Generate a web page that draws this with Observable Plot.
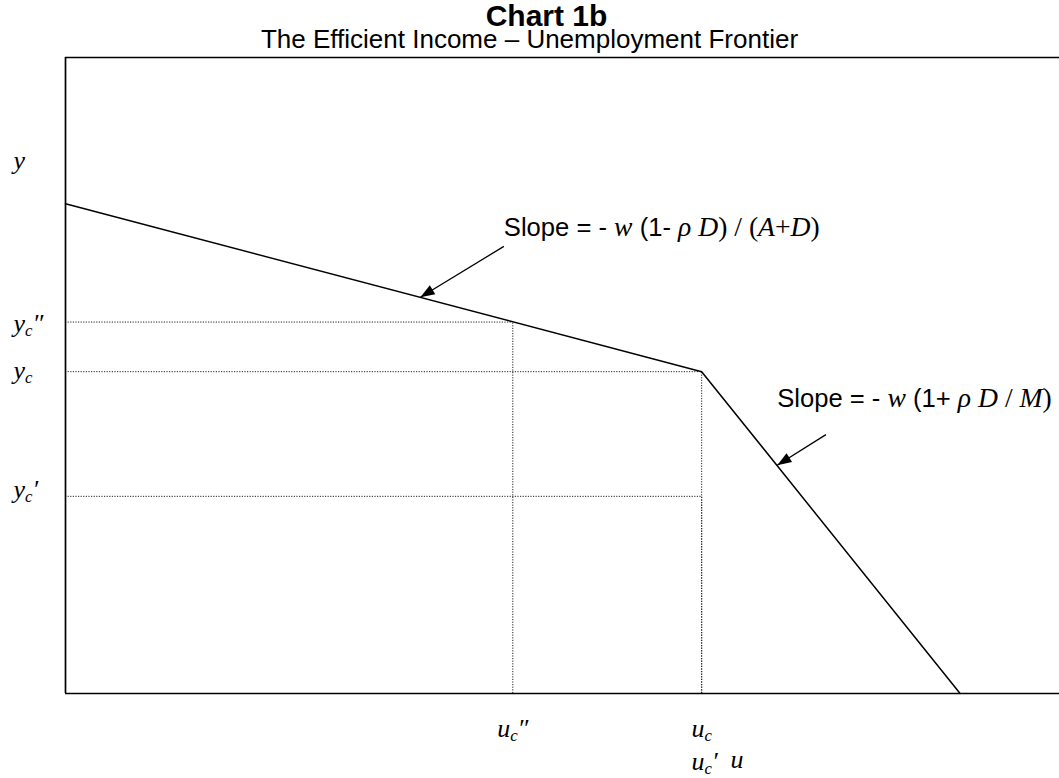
<!DOCTYPE html>
<html><head><meta charset="utf-8">
<script src="https://cdn.jsdelivr.net/npm/d3@7"></script>
<script src="https://cdn.jsdelivr.net/npm/@observablehq/plot@0.6"></script>
<style>
body{margin:0;background:#fff;overflow:hidden;}
#head{position:relative;height:50px}
#title{position:absolute;left:34px;right:0;top:-1px;font:bold 30px "Liberation Sans",Arial,sans-serif;text-align:center;line-height:normal;color:#000}
#subtitle{position:absolute;left:0;right:0;top:24px;font:26px "Liberation Sans",Arial,sans-serif;text-align:center;line-height:normal;color:#000}
#chart svg text{white-space:pre}
</style></head><body>
<div id="head">
<div id="title">Chart 1b</div>
<div id="subtitle">The Efficient Income – Unemployment Frontier</div>
</div>
<div id="chart"></div>
<script>
// ---- data (chart units: u across, y up) ----
const frontierU = [0, 64, 90];
const frontierY = [77, 50.6, 0];
const guideU = [45, 64, 64];          // y_c'', y_c, y_c'
const guideY = [58.4, 50.6, 31];
const yLabels = ["§iy", "§iy§bc§i″", "§iy§bc", "§iy§bc§i′"];
const yLabelAt = [82.5, 56.8, 49.5, 30.8];
const uTickLabels = ["§iu§bc§i″", "§iu§bc"];
const uTickLabelsAt = [45, 64];
const uTickLabels2 = ["§iu§bc§i′"];
const uTickLabels2At = [64.3];
const uAxisLabel = ["§iu"];
const uAxisLabelAt = [66.9];
const arrowFromU = [44.1, 76.5];
const arrowFromY = [70.3, 40.7];
const arrowToU = [35.7, 71.6];
const arrowToY = [62.3, 35.9];
const slopeTexts = [
  "§sSlope = - §iw§s (1- §iρ D§r) / (§iA§r+§iD§r)",
  "§sSlope = - §iw§s (1+ §iρ D§r / §iM§r)"
];
const slopeTextU = [44.1, 71.6];
const slopeTextY = [72.0, 45.0];

// ---- tables built from arrays ----
const frontier = frontierU.map((u, i) => ({u, y: frontierY[i]}));
const guides = guideU.map((u, i) => ({u, y: guideY[i]}));
const yLab = yLabels.map((t, i) => ({t, y: yLabelAt[i]}));
const uLab1 = uTickLabels.map((t, i) => ({t, u: uTickLabelsAt[i]}));
const uLab2 = uTickLabels2.map((t, i) => ({t, u: uTickLabels2At[i]}));
const uLab3 = uAxisLabel.map((t, i) => ({t, u: uAxisLabelAt[i]}));
const arrows = arrowFromU.map((u, i) => ({x1: u, y1: arrowFromY[i], x2: arrowToU[i], y2: arrowToY[i]}));
const notes = slopeTexts.map((t, i) => ({t, u: slopeTextU[i], y: slopeTextY[i]}));

const W = 1059, H = 728, ML = 65, MR = 0, MT = 7, MB = 85;
const kx = (W - ML - MR) / 100, ky = (H - MT - MB) / 100;
const headAngle = d => Math.atan2((d.x2 - d.x1) * kx, (d.y2 - d.y1) * ky) * 180 / Math.PI;
const arrowHead = {
  draw(ctx, size) {
    const r = Math.sqrt(size / Math.PI);
    const L = r * 2.6, hw = r * 0.95;
    ctx.moveTo(0, 0); ctx.lineTo(-hw, L); ctx.lineTo(hw, L); ctx.closePath();
  }
};
const sans = "Liberation Sans, Arial, sans-serif";
const serif = "Liberation Serif, Times New Roman, serif";
const dots = "1.2,1.4";

const plot = Plot.plot({
  width: W, height: H,
  marginLeft: ML, marginRight: MR, marginTop: MT, marginBottom: MB,
  x: {domain: [0, 100], axis: null},
  y: {domain: [0, 100], axis: null},
  style: {background: "transparent", overflow: "visible"},
  marks: [
    Plot.ruleY(guides, {y: "y", x1: 0, x2: "u", stroke: "#222", strokeWidth: 1, strokeDasharray: dots}),
    Plot.ruleX(guides, {x: "u", y1: 0, y2: "y", stroke: "#222", strokeWidth: 1, strokeDasharray: dots}),
    Plot.ruleX([0], {stroke: "#000", strokeWidth: 1.7}),
    Plot.ruleY([0, 100], {stroke: "#000", strokeWidth: 1.7}),
    Plot.line(frontier, {x: "u", y: "y", stroke: "#000", strokeWidth: 1.5}),
    Plot.link(arrows, {x1: "x1", y1: "y1", x2: "x2", y2: "y2", stroke: "#000", strokeWidth: 1.3}),
    Plot.dot(arrows, {x: "x2", y: "y2", symbol: arrowHead, r: 5.5, fill: "#000", stroke: "none", rotate: headAngle}),
    Plot.text(notes, {x: "u", y: "y", text: "t", textAnchor: "start", lineAnchor: "bottom", fontSize: 25.6, fill: "#000"}),
    Plot.text(yLab, {x: 0, y: "y", text: "t", dx: -52, textAnchor: "start", lineAnchor: "bottom", fontSize: 24, fill: "#000"}),
    Plot.text(uLab1, {x: "u", y: 0, text: "t", dy: 43, textAnchor: "middle", lineAnchor: "bottom", fontSize: 24, fill: "#000"}),
    Plot.text(uLab2, {x: "u", y: 0, text: "t", dy: 76, textAnchor: "middle", lineAnchor: "bottom", fontSize: 24, fill: "#000"}),
    Plot.text(uLab3, {x: "u", y: 0, text: "t", dy: 74, textAnchor: "start", lineAnchor: "bottom", fontSize: 24, fill: "#000"})
  ]
});
document.getElementById("chart").appendChild(plot);

// rich text: §s sans, §i serif italic, §r serif roman, §b subscript
const svgNS = "http://www.w3.org/2000/svg";
const st = {
  s: {f: sans, s: "normal", z: "1em"},
  i: {f: serif, s: "italic", z: "1.08em"},
  r: {f: serif, s: "normal", z: "1.08em"},
  b: {f: serif, s: "italic", z: "0.7em", sub: true}
};
const SUB = 4;
for (const t of plot.querySelectorAll("text")) {
  const s = t.textContent;
  if (!s.includes("§")) continue;
  const parts = s.split(/§([sirb])/);
  t.textContent = "";
  let shifted = false;
  for (let k = 1; k < parts.length; k += 2) {
    const o = st[parts[k]], txt = parts[k + 1];
    if (!txt) continue;
    const ts = document.createElementNS(svgNS, "tspan");
    ts.setAttribute("font-family", o.f);
    ts.setAttribute("font-style", o.s);
    ts.setAttribute("font-size", o.z);
    if (o.sub && !shifted) { ts.setAttribute("dy", SUB); shifted = true; }
    else if (!o.sub && shifted) { ts.setAttribute("dy", -SUB); shifted = false; }
    ts.textContent = txt;
    t.appendChild(ts);
  }
}
</script></body></html>
